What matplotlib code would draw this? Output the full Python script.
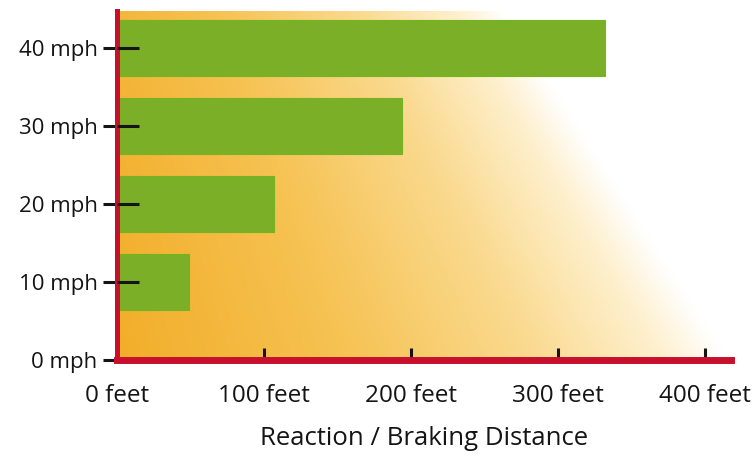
import numpy as np
import matplotlib
matplotlib.use("Agg")
import matplotlib.pyplot as plt
from matplotlib.colors import LinearSegmentedColormap

plt.rcParams['font.family'] = ['Open Sans', 'DejaVu Sans']

# speeds (mph) and total reaction + braking distance (feet)
speeds = [10, 20, 30, 40]
distances = [49, 107, 194, 332]
speed_ticks = [0, 10, 20, 30, 40]
speed_labels = ["0 mph", "10 mph", "20 mph", "30 mph", "40 mph"]
dist_ticks = [0, 100, 200, 300, 400]
dist_labels = ["0 feet", "100 feet", "200 feet", "300 feet", "400 feet"]

RED = "#C8102E"
GREEN = "#7BAF27"
INK = "#141414"

fig = plt.figure(figsize=(7.54, 4.57), dpi=100)
ax = fig.add_axes([0.1552, 0.2123, 0.8143, 0.7637])

# orange -> white diagonal wash behind the bars
u, v = np.meshgrid(np.linspace(0, 1, 400), np.linspace(0, 1, 300))
edge = 1.05 - 0.26 * v
s = np.clip((u + 0.12 * v) / edge, 0, 1)
wash = LinearSegmentedColormap.from_list(
    "wash", [(0, "#F2AE2A"), (0.35, "#F6C252"), (0.65, "#FADA90"),
             (0.85, "#FEF0CE"), (0.95, "#FFFFFF"), (1, "#FFFFFF")])
ax.imshow(s, cmap=wash, vmin=0, vmax=1, origin="lower", aspect="auto",
          extent=(0, 1, 0, 1), transform=ax.transAxes, zorder=0)

ax.barh(speeds, distances, height=7.2, color=GREEN, edgecolor="#72B520",
        linewidth=0.8, zorder=2)

ax.set_xlim(0, 418)
ax.set_ylim(0, 44.7)

for side in ("top", "right"):
    ax.spines[side].set_visible(False)
ax.spines["left"].set_color(RED)
ax.spines["left"].set_linewidth(3.6)
ax.spines["bottom"].set_color(RED)
ax.spines["bottom"].set_linewidth(5)
for sp in ("left", "bottom"):
    ax.spines[sp].set_capstyle("projecting")

ax.set_yticks(speed_ticks, speed_labels)
ax.set_xticks(dist_ticks, dist_labels)
ax.tick_params(axis="y", direction="out", length=10, width=2.2, color=INK,
               pad=4, labelsize=16, labelcolor=INK)
ax.tick_params(axis="x", direction="in", length=8.5, width=2.2, color=INK,
               pad=17, labelsize=17.5, labelcolor=INK)

# speed ticks continue inside the plot, across the red axis line
ax.hlines(speeds, 0, 15, color=INK, linewidth=2.2, zorder=4)

ax.set_xlabel("Reaction / Braking Distance", fontsize=18.5, color=INK,
              labelpad=13)

fig.savefig("out.png", dpi=100)
